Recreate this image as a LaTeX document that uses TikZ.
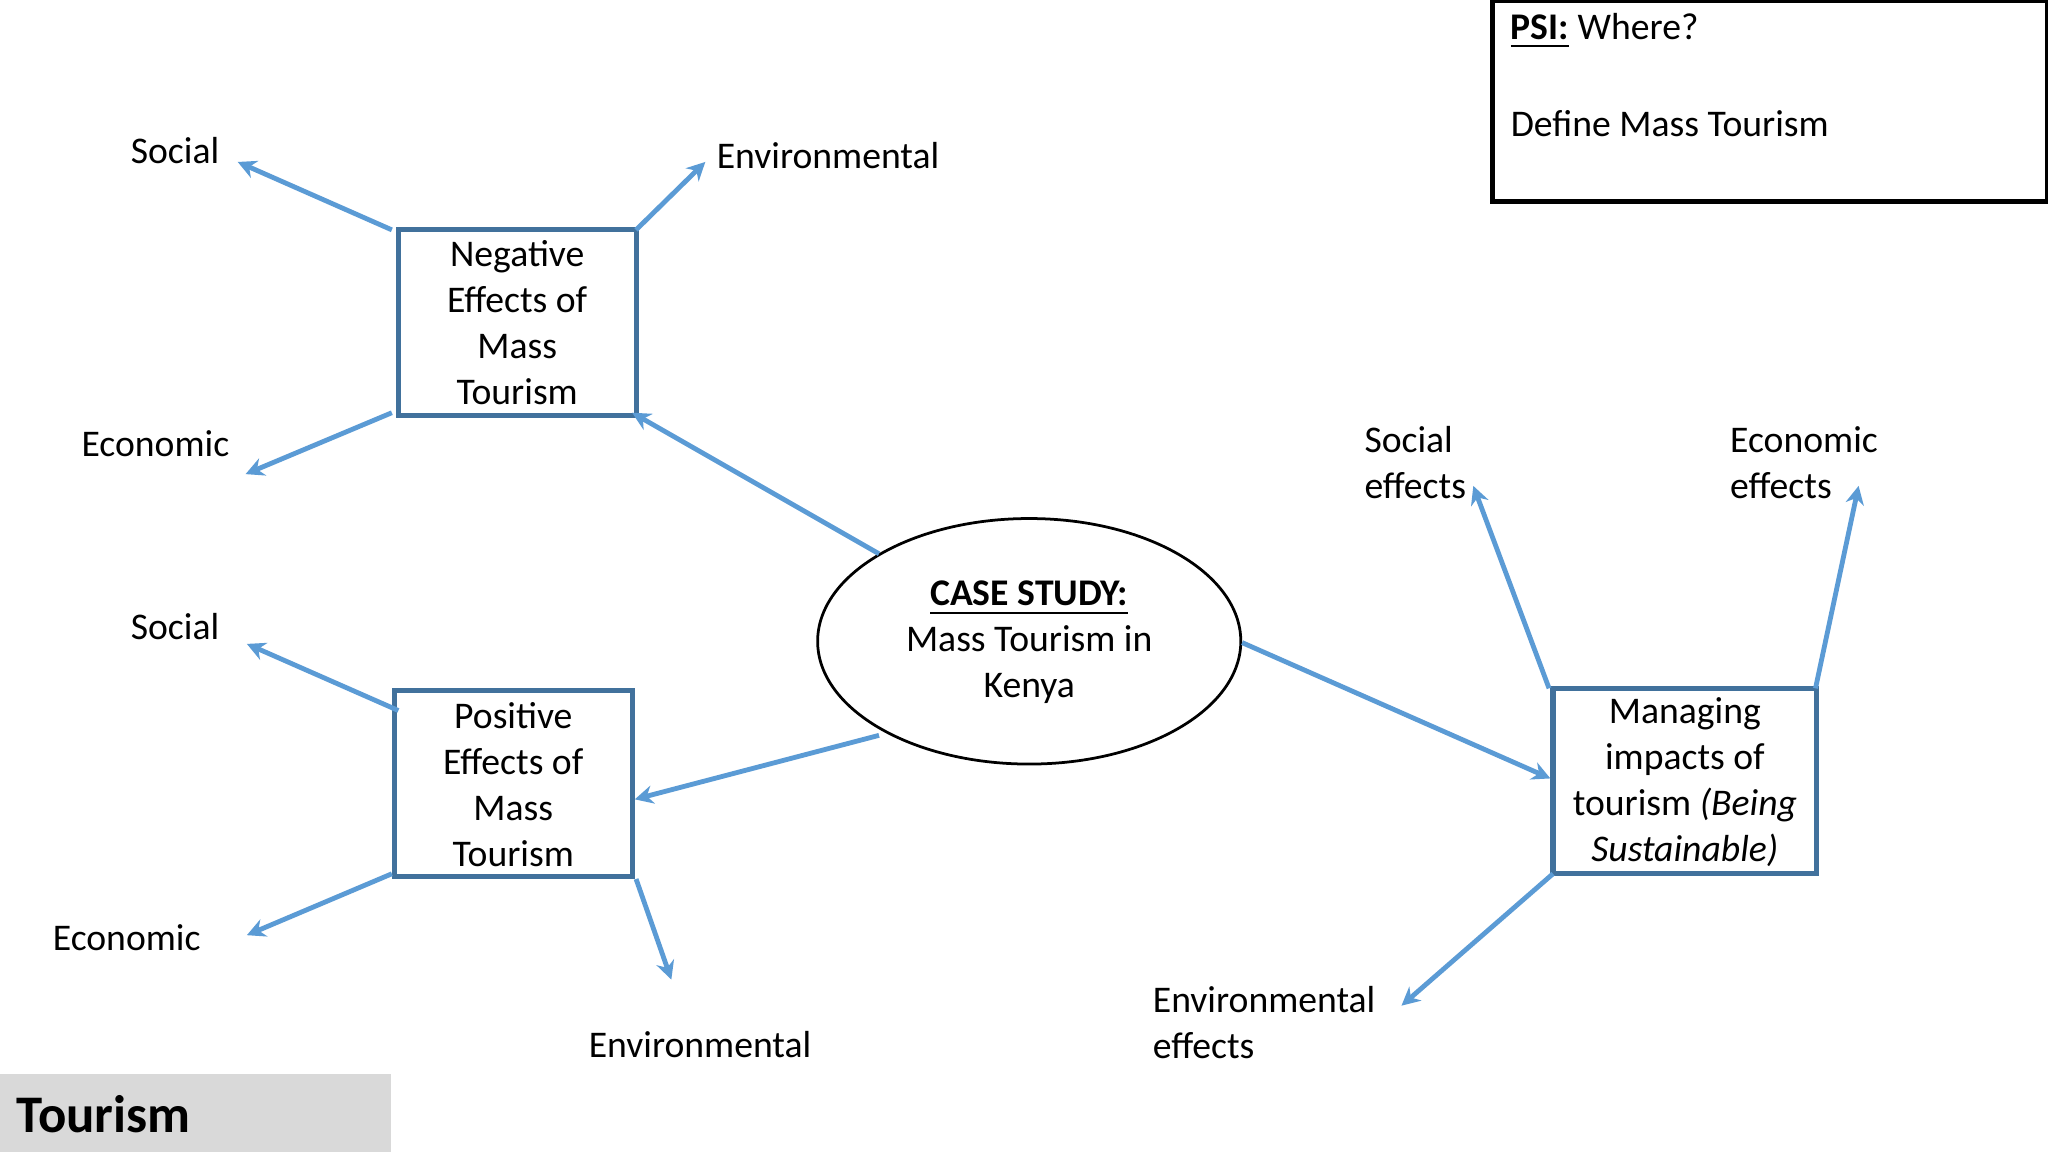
\documentclass[tikz,border=0pt]{standalone}
\usepackage{fontspec}
\setmainfont{Carlito}
\usetikzlibrary{arrows.meta}
\begin{document}
\begin{tikzpicture}[x=0.01cm,y=-0.01cm,
  lbl/.style={font=\fontsize{8.2}{10}\selectfont,inner sep=0pt},
  arr/.style={draw=arrc,line width=1.05pt,-{Stealth[length=4pt,width=4pt]}}]
\definecolor{boxc}{HTML}{41719C}
\definecolor{arrc}{HTML}{5B9BD5}
\useasboundingbox (0,0) rectangle (1568,882);
\fill[white] (0,0) rectangle (1568,882);
% PSI
\draw[black,line width=1.1pt] (1143,0) rectangle (1568,154);
\node[lbl,anchor=west] (psia) at (1156,24) {\textbf{\underline{PSI:}} Where?};
\node[lbl,anchor=west] (psib) at (1156,95) {Define Mass Tourism};
% Tourism band
\fill[black!15] (0,822) rectangle (299,882);
\node[anchor=west,inner sep=0pt,font=\fontsize{11.5}{13}\selectfont\bfseries] (tour) at (12,853) {Tourism};
% boxes
\draw[boxc,line width=1.1pt] (305,176) rectangle (487,318);
\node[lbl,align=center] (negt) at (396,247) {Negative\\Effects of\\Mass\\Tourism};
\draw[boxc,line width=1.1pt] (302,529) rectangle (484,671);
\node[lbl,align=center] (post) at (393,601) {Positive\\Effects of\\Mass\\Tourism};
\draw[boxc,line width=1.1pt] (1189,527) rectangle (1391,669);
\node[lbl,align=center] (mant) at (1290,599) {Managing\\impacts of\\tourism \textit{(Being}\\\textit{Sustainable)}};
% ellipse
\draw[black,line width=0.6pt] (788,491) ellipse [x radius=162,y radius=94];
\node[lbl,align=center] (cs) at (788,492) {\textbf{\underline{CASE STUDY:}}\\Mass Tourism in\\Kenya};
% labels
\node[lbl] (l1) at (134,115) {Social};
\node[lbl] (l2) at (634,119) {Environmental};
\node[lbl] (l3) at (119,340) {Economic};
\node[lbl] (l4) at (134,480) {Social};
\node[lbl] (l5) at (97,718) {Economic};
\node[lbl] (l6) at (536,800) {Environmental};
\node[lbl,align=left,anchor=west] (l7) at (1044,354) {Social\\effects};
\node[lbl,align=left,anchor=west] (l8) at (1324,354) {Economic\\effects};
\node[lbl,align=left,anchor=west] (l9) at (882,783) {Environmental\\effects};
% coordinates
\coordinate (a1) at (300,176); \coordinate (b1) at (182,124);
\coordinate (a2) at (487,176); \coordinate (b2) at (540,124);
\coordinate (a3) at (300,316); \coordinate (b3) at (188,363);
\coordinate (a4) at (673,424); \coordinate (b4) at (484,316);
\coordinate (a5) at (673,563); \coordinate (b5) at (486,612);
\coordinate (a6) at (305,544); \coordinate (b6) at (189,493);
\coordinate (a7) at (300,669); \coordinate (b7) at (189,716);
\coordinate (a8) at (487,673); \coordinate (b8) at (514,750);
\coordinate (a9) at (951,492); \coordinate (b9) at (1187,596);
\coordinate (a10) at (1186,527); \coordinate (b10) at (1128,372);
\coordinate (a11) at (1390,527); \coordinate (b11) at (1423,372);
\coordinate (a12) at (1189,669); \coordinate (b12) at (1073,770);
\foreach \i in {1,...,12} {\draw[arr] (a\i) -- (b\i);}
\end{tikzpicture}
\end{document}
